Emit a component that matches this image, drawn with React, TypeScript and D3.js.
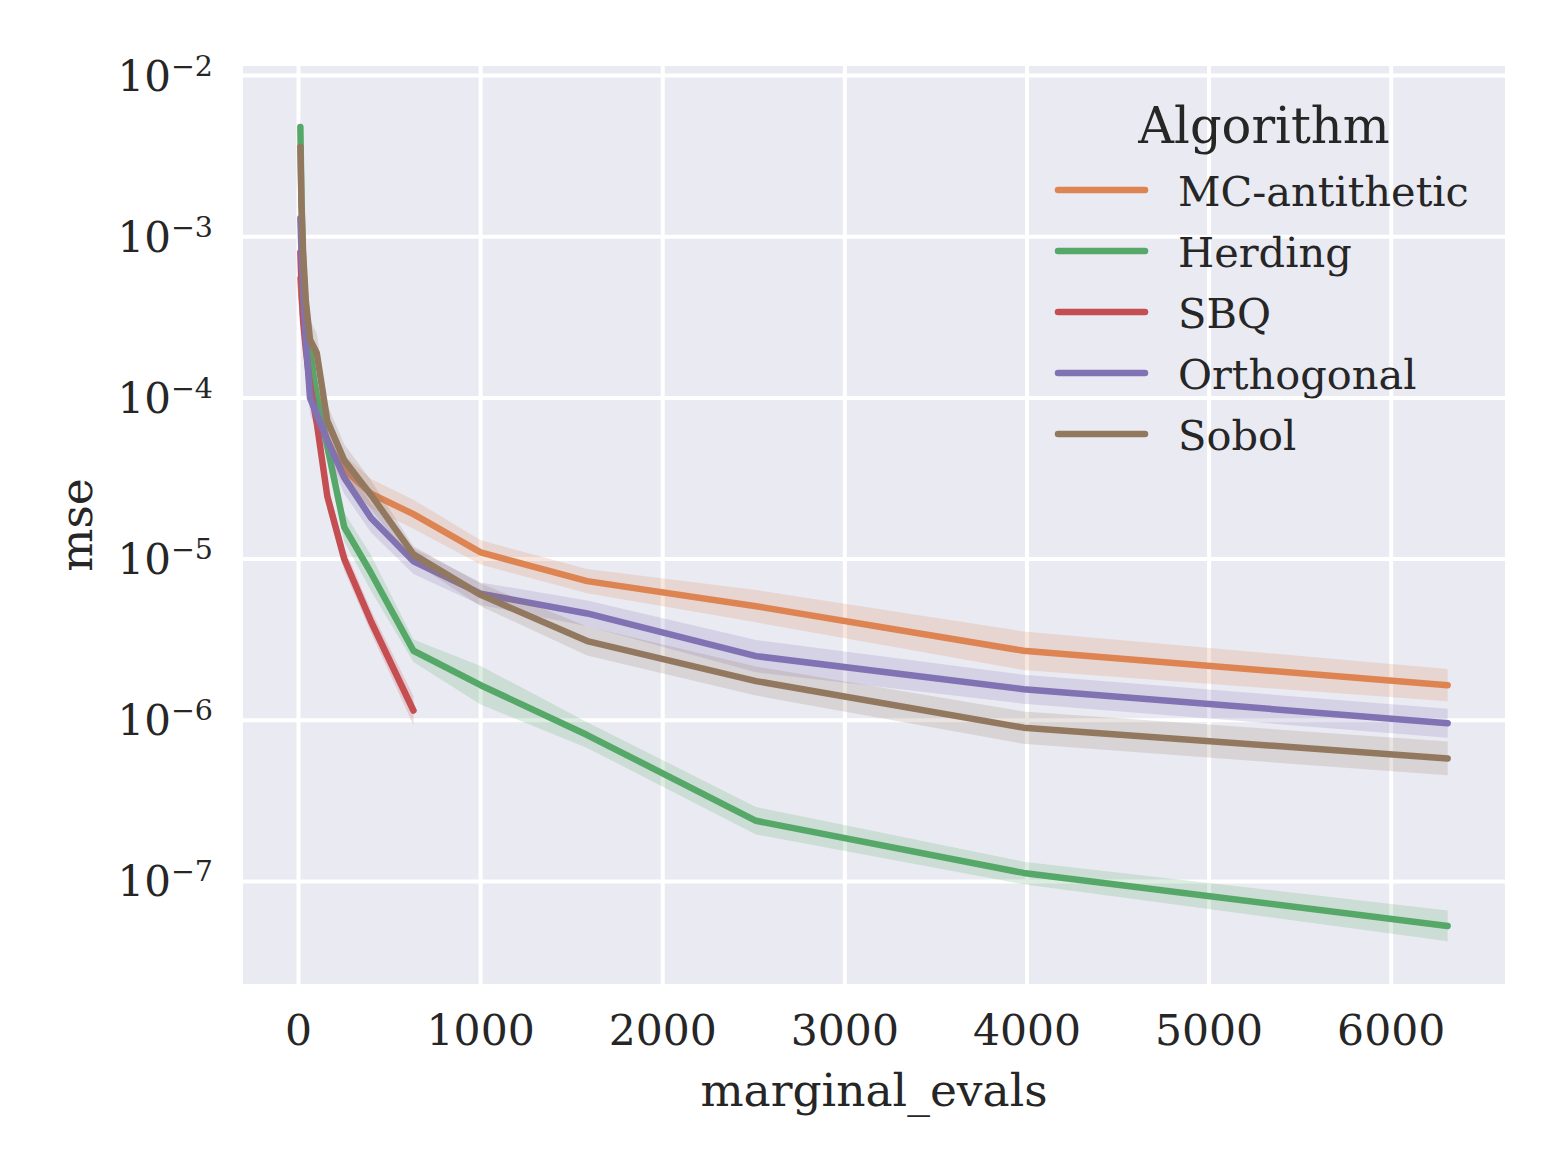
import React from "react";
import * as d3 from "d3";

const evals = [10, 16, 25, 40, 63, 100, 158, 251, 398, 631, 1000, 1585, 2512, 3981, 6310];

const algorithms = ["MC-antithetic", "Herding", "SBQ", "Orthogonal", "Sobol"];
const colors = ["#DD8452", "#55A868", "#C44E52", "#8172B3", "#937860"];

const mseMC = [5.5e-4, 4.2e-4, 3.2e-4, 2.4e-4, 1.6e-4, 1.05e-4, 5.2e-5, 3.6e-5, 2.55e-5, 1.9e-5, 1.1e-5, 7.3e-6, 5.1e-6, 2.7e-6, 1.65e-6];
const mseHerding = [4.8e-3, 1.7e-3, 7e-4, 3.5e-4, 2e-4, 1.0e-4, 5e-5, 1.58e-5, 8.2e-6, 2.7e-6, 1.65e-6, 8.1e-7, 2.38e-7, 1.13e-7, 5.3e-8];
const mseSBQ = [8e-4, 5e-4, 3e-4, 2e-4, 1.2e-4, 7e-5, 2.45e-5, 1.0e-5, 4.1e-6, 1.15e-6];
const mseOrth = [1.3e-3, 8e-4, 4.5e-4, 2.3e-4, 1.0e-4, 7.9e-5, 5.5e-5, 3.2e-5, 1.8e-5, 9.7e-6, 6.1e-6, 4.6e-6, 2.5e-6, 1.56e-6, 9.6e-7];
const mseSobol = [3.6e-3, 1.6e-3, 8e-4, 4e-4, 2.3e-4, 1.9e-4, 7.2e-5, 4.1e-5, 2.5e-5, 1.07e-5, 6.0e-6, 3.1e-6, 1.75e-6, 9.0e-7, 5.8e-7];

// half-width of the confidence band, in decades
const bandMC = [0.15, 0.15, 0.15, 0.12, 0.12, 0.1, 0.1, 0.09, 0.09, 0.09, 0.075, 0.075, 0.1, 0.12, 0.1];
const bandHerding = [0.12, 0.12, 0.12, 0.12, 0.1, 0.1, 0.1, 0.09, 0.11, 0.07, 0.12, 0.08, 0.085, 0.07, 0.095];
const bandSBQ = [0.15, 0.15, 0.12, 0.12, 0.1, 0.1, 0.08, 0.07, 0.07, 0.09];
const bandOrth = [0.12, 0.12, 0.12, 0.1, 0.1, 0.1, 0.1, 0.1, 0.09, 0.08, 0.07, 0.08, 0.1, 0.09, 0.09];
const bandSobol = [0.15, 0.15, 0.12, 0.12, 0.12, 0.12, 0.1, 0.1, 0.09, 0.05, 0.07, 0.09, 0.09, 0.1, 0.105];

const xTicks = [0, 1000, 2000, 3000, 4000, 5000, 6000];
const yTickExps = [-2, -3, -4, -5, -6, -7];

const FONT = "DejaVu Serif";
const W = 1560;
const H = 1170;
const M = { left: 243, right: 1505, top: 66, bottom: 984 };

export default function App() {
  const x = d3.scaleLinear().domain([-305, 6625]).range([M.left, M.right]);
  const y = d3.scaleLog().domain([Math.pow(10, -7.636), Math.pow(10, -1.941)]).range([M.bottom, M.top]);

  const seriesMse = [mseMC, mseHerding, mseSBQ, mseOrth, mseSobol];
  const seriesBand = [bandMC, bandHerding, bandSBQ, bandOrth, bandSobol];

  const series = algorithms.map((name, i) => {
    const pts = seriesMse[i].map((v, j) => ({
      x: evals[j],
      v,
      lo: v / Math.pow(10, seriesBand[i][j]),
      hi: v * Math.pow(10, seriesBand[i][j]),
    }));
    return { name, color: colors[i], pts };
  });

  const line = d3
    .line<any>()
    .x((d) => x(d.x))
    .y((d) => y(d.v));
  const area = d3
    .area<any>()
    .x((d) => x(d.x))
    .y0((d) => y(d.lo))
    .y1((d) => y(d.hi));

  const legendX = 1058;
  const legendY0 = 190;
  const legendDy = 61;

  return (
    <svg width={W} height={H} style={{ display: "block", position: "absolute", left: 0, top: 0 }}>
      <rect x={0} y={0} width={W} height={H} fill="#ffffff" />
      <defs>
        <clipPath id="plotclip">
          <rect x={M.left} y={M.top} width={M.right - M.left} height={M.bottom - M.top} />
        </clipPath>
      </defs>
      <rect x={M.left} y={M.top} width={M.right - M.left} height={M.bottom - M.top} fill="#EAEAF2" />
      {xTicks.map((t) => (
        <line key={"gx" + t} x1={x(t)} x2={x(t)} y1={M.top} y2={M.bottom} stroke="#ffffff" strokeWidth={4} />
      ))}
      {yTickExps.map((e) => (
        <line key={"gy" + e} x1={M.left} x2={M.right} y1={y(Math.pow(10, e))} y2={y(Math.pow(10, e))} stroke="#ffffff" strokeWidth={4} />
      ))}
      <g clipPath="url(#plotclip)">
        {series.map((s) => (
          <g key={s.name}>
            <path d={area(s.pts) || ""} fill={s.color} fillOpacity={0.2} stroke="none" />
            <path d={line(s.pts) || ""} fill="none" stroke={s.color} strokeWidth={6.5} strokeLinecap="round" strokeLinejoin="round" />
          </g>
        ))}
      </g>
      {xTicks.map((t) => (
        <text key={"tx" + t} x={x(t)} y={1045} textAnchor="middle" fontFamily={FONT} fontSize={42.5} fill="#262626">
          {t}
        </text>
      ))}
      {yTickExps.map((e) => (
        <text key={"ty" + e} x={213} y={y(Math.pow(10, e)) + 15} textAnchor="end" fontFamily={FONT} fontSize={42} fill="#262626">
          10
          <tspan fontSize={28.5} dy={-15}>
            {"\u2212" + Math.abs(e)}
          </tspan>
        </text>
      ))}
      <text x={(M.left + M.right) / 2} y={1106} textAnchor="middle" fontFamily={FONT} fontSize={45.5} fill="#262626">
        marginal_evals
      </text>
      <text
        transform={`translate(92, ${(M.top + M.bottom) / 2}) rotate(-90)`}
        textAnchor="middle"
        fontFamily={FONT}
        fontSize={45.5}
        fill="#262626"
      >
        mse
      </text>
      <text x={1264} y={143} textAnchor="middle" fontFamily={FONT} fontSize={49.5} fill="#262626">
        Algorithm
      </text>
      {series.map((s, i) => (
        <g key={"lg" + s.name}>
          <line
            x1={legendX}
            x2={1145}
            y1={legendY0 + i * legendDy}
            y2={legendY0 + i * legendDy}
            stroke={s.color}
            strokeWidth={6.5}
            strokeLinecap="round"
          />
          <text x={1178} y={legendY0 + i * legendDy + 16} fontFamily={FONT} fontSize={41.5} fill="#262626">
            {s.name}
          </text>
        </g>
      ))}
    </svg>
  );
}
